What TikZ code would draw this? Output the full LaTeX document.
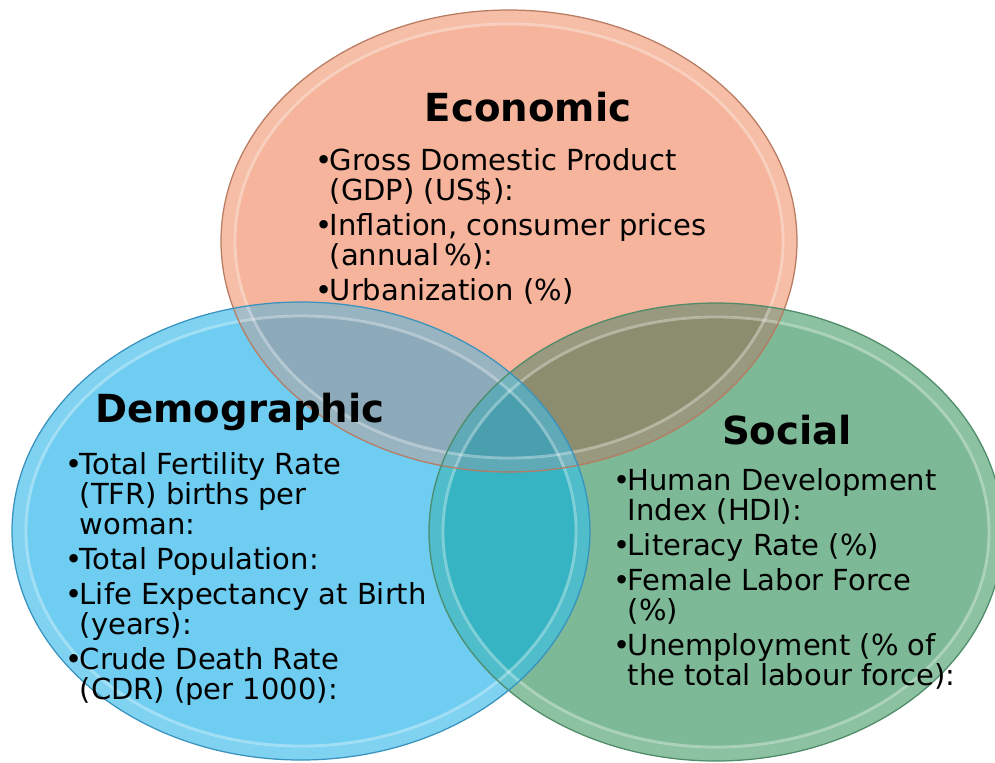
\documentclass[tikz,border=0pt]{standalone}
\usepackage{fontspec}
\setmainfont{DejaVu Sans}
\usetikzlibrary{positioning}

\definecolor{ecofill}{HTML}{F5B49B}
\definecolor{demofill}{HTML}{6ECDF0}
\definecolor{socfill}{HTML}{7DB996}
\definecolor{ecodemo}{HTML}{8CAAB9}
\definecolor{ecosoc}{HTML}{8C8C6E}
\definecolor{demosoc}{HTML}{37B4C3}
\definecolor{allthree}{HTML}{4A9FAE}
\definecolor{ecorim}{HTML}{B77C62}
\definecolor{demorim}{HTML}{3A93BE}
\definecolor{socrim}{HTML}{4E8C6A}

\tikzset{
  headtext/.style={font=\bfseries\fontsize{22}{24}\selectfont,inner sep=0pt},
  itemtext/.style={anchor=north west,align=left,inner sep=0pt,
    font=\fontsize{16.5}{17}\selectfont},
  rim/.style={line width=.7pt},
  glow/.style={white,opacity=.35,line width=1.6pt},
  band/.style={white,opacity=.12,line width=7pt}
}
\newcommand{\itm}{\makebox[6.5pt]{\textbullet}}
\newcommand{\cnt}{\hspace*{6.5pt}}

\begin{document}
\begin{tikzpicture}[x=0.02cm,y=-0.02cm]
        \useasboundingbox (0,0) rectangle (995,762);
        \def\ecocirc{(509,241) ellipse [x radius=288, y radius=231]}
        \def\democirc{(301,531) ellipse [x radius=289, y radius=229]}
        \def\soccirc{(716,532) ellipse [x radius=287, y radius=229]}

        % the three sets
        \fill[ecofill] \ecocirc;
        \fill[socfill] \soccirc;
        \fill[demofill] \democirc;

        % overlaps
        \begin{scope}
            \clip \ecocirc;
            \fill[ecodemo] \democirc;
            \fill[ecosoc] \soccirc;
        \end{scope}
        \begin{scope}
            \clip \democirc;
            \fill[demosoc] \soccirc;
        \end{scope}
        \begin{scope}
            \clip \ecocirc;
            \clip \democirc;
            \fill[allthree] \soccirc;
        \end{scope}

        % bevelled rims
        \draw[band] (509,241) ellipse [x radius=281, y radius=224];
        \draw[band] (716,532) ellipse [x radius=280, y radius=222];
        \draw[band] (301,531) ellipse [x radius=282, y radius=222];
        \draw[glow] (509,241) ellipse [x radius=274, y radius=217];
        \draw[glow] (716,532) ellipse [x radius=273, y radius=215];
        \draw[glow] (301,531) ellipse [x radius=275, y radius=215];
        \draw[rim,ecorim] \ecocirc;
        \draw[rim,socrim] \soccirc;
        \draw[rim,demorim] \democirc;

        \node[headtext] (ecohead) at (528,107) {Economic};
        \node[itemtext] (ecolist) at (318,148) {\itm Gross Domestic Product\\
            \cnt(GDP) (US\$):\\[3pt]
            \itm Inflation, consumer prices\\
            \cnt(annual\,\%):\\[3pt]
            \itm Urbanization (\%)};

        \node[headtext] (demohead) at (240,412) {Demographic};
        \node[itemtext] (demolist) at (68,452) {\itm Total Fertility Rate\\
            \cnt(TFR) births per\\
            \cnt woman:\\[3pt]
            \itm Total Population:\\[3pt]
            \itm Life Expectancy at Birth\\
            \cnt(years):\\[3pt]
            \itm Crude Death Rate\\
            \cnt(CDR) (per 1000):};

        \node[headtext] (sochead) at (787,430) {Social};
        \node[itemtext] (soclist) at (616,468) {\itm Human Development\\
            \cnt Index (HDI):\\[3pt]
            \itm Literacy Rate (\%)\\[3pt]
            \itm Female Labor Force\\
            \cnt(\%)\\[3pt]
            \itm Unemployment (\% of\\
            \cnt the total labour force):};
    \end{tikzpicture}
\end{document}
